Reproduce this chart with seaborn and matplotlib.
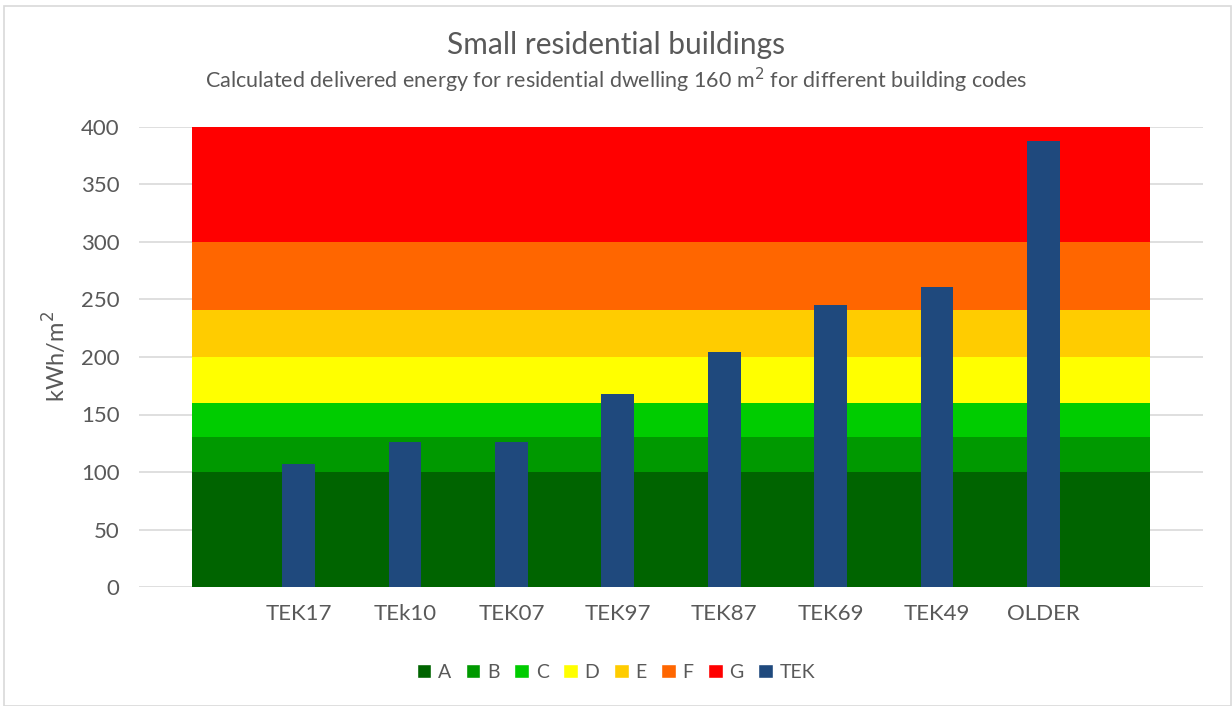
import numpy as np
import pandas as pd
import matplotlib.pyplot as plt
import seaborn as sns
from matplotlib.patches import Patch, Rectangle

# categories (blank slots at both ends so the bands run past the bars)
categories = ["", "TEK17", "TEk10", "TEK07", "TEK97", "TEK87", "TEK69", "TEK49", "OLDER", " "]
tek_values = [np.nan, 107, 126, 126, 168, 204, 245, 261, 388, np.nan]

# energy label bands (thickness of each stacked band, kWh/m2)
band_names = ["A", "B", "C", "D", "E", "F", "G"]
band_sizes = [100, 30, 30, 40, 41, 59, 100]
band_colors = ["#006400", "#009900", "#00CC00", "#FFFF00", "#FFCC00", "#FF6600", "#FF0000"]
tek_color = "#1F497D"

sns.set_style("white")
plt.rcParams['font.family'] = ['Lato', 'DejaVu Sans']
grey = "#595959"

fig = plt.figure(figsize=(12.32, 7.06), dpi=100)
ax = fig.add_axes([139 / 1232, 1 - 587 / 706, (1203 - 139) / 1232, (587 - 127) / 706])

x = np.arange(len(categories))
ax.stackplot(x, *[[s] * len(categories) for s in band_sizes], colors=band_colors,
             zorder=2, linewidth=0)

df = pd.DataFrame({"code": categories, "value": tek_values})
sns.barplot(data=df, x="code", y="value", order=categories, color=tek_color,
            width=0.31, saturation=1, ax=ax, zorder=3, linewidth=0, edgecolor=tek_color)
if ax.get_legend() is not None:
    ax.get_legend().remove()

ax.set_xlim(-0.5, len(categories) - 0.5)
ax.set_ylim(0, 400)
ax.set_yticks(range(0, 401, 50))
ax.yaxis.grid(True, color="#D9D9D9", linewidth=1.2, zorder=0)
ax.set_axisbelow(True)
for s in ax.spines.values():
    s.set_visible(False)
ax.tick_params(axis="both", length=0, labelsize=16, labelcolor=grey)
ax.tick_params(axis="x", pad=12)
ax.tick_params(axis="y", pad=14)
ax.set_xlabel("")
ax.set_ylabel("kWh/m$^2$", fontsize=17, color=grey, labelpad=8)

fig.text(0.5, 1 - 45 / 706, "Small residential buildings", ha="center", va="center",
         fontsize=21.5, color=grey)
fig.text(0.5, 1 - 80 / 706,
         "Calculated delivered energy for residential dwelling 160 m$^2$ for different building codes",
         ha="center", va="center", fontsize=15.5, color=grey)

handles = [Patch(facecolor=c, label=n) for c, n in zip(band_colors, band_names)]
handles.append(Patch(facecolor=tek_color, label="TEK"))
fig.legend(handles=handles, loc="center", bbox_to_anchor=(0.5, 1 - 672 / 706), ncol=8,
           frameon=False, fontsize=14, labelcolor=grey, handlelength=0.75, handleheight=0.75,
           handletextpad=0.35, columnspacing=0.75)

fig.patches.append(Rectangle((4 / 1232, 0), 1 - 5 / 1232, 1 - 6 / 706, transform=fig.transFigure,
                             fill=False, edgecolor="#D9D9D9", linewidth=1.2))

fig.savefig("out.png", dpi=100)
